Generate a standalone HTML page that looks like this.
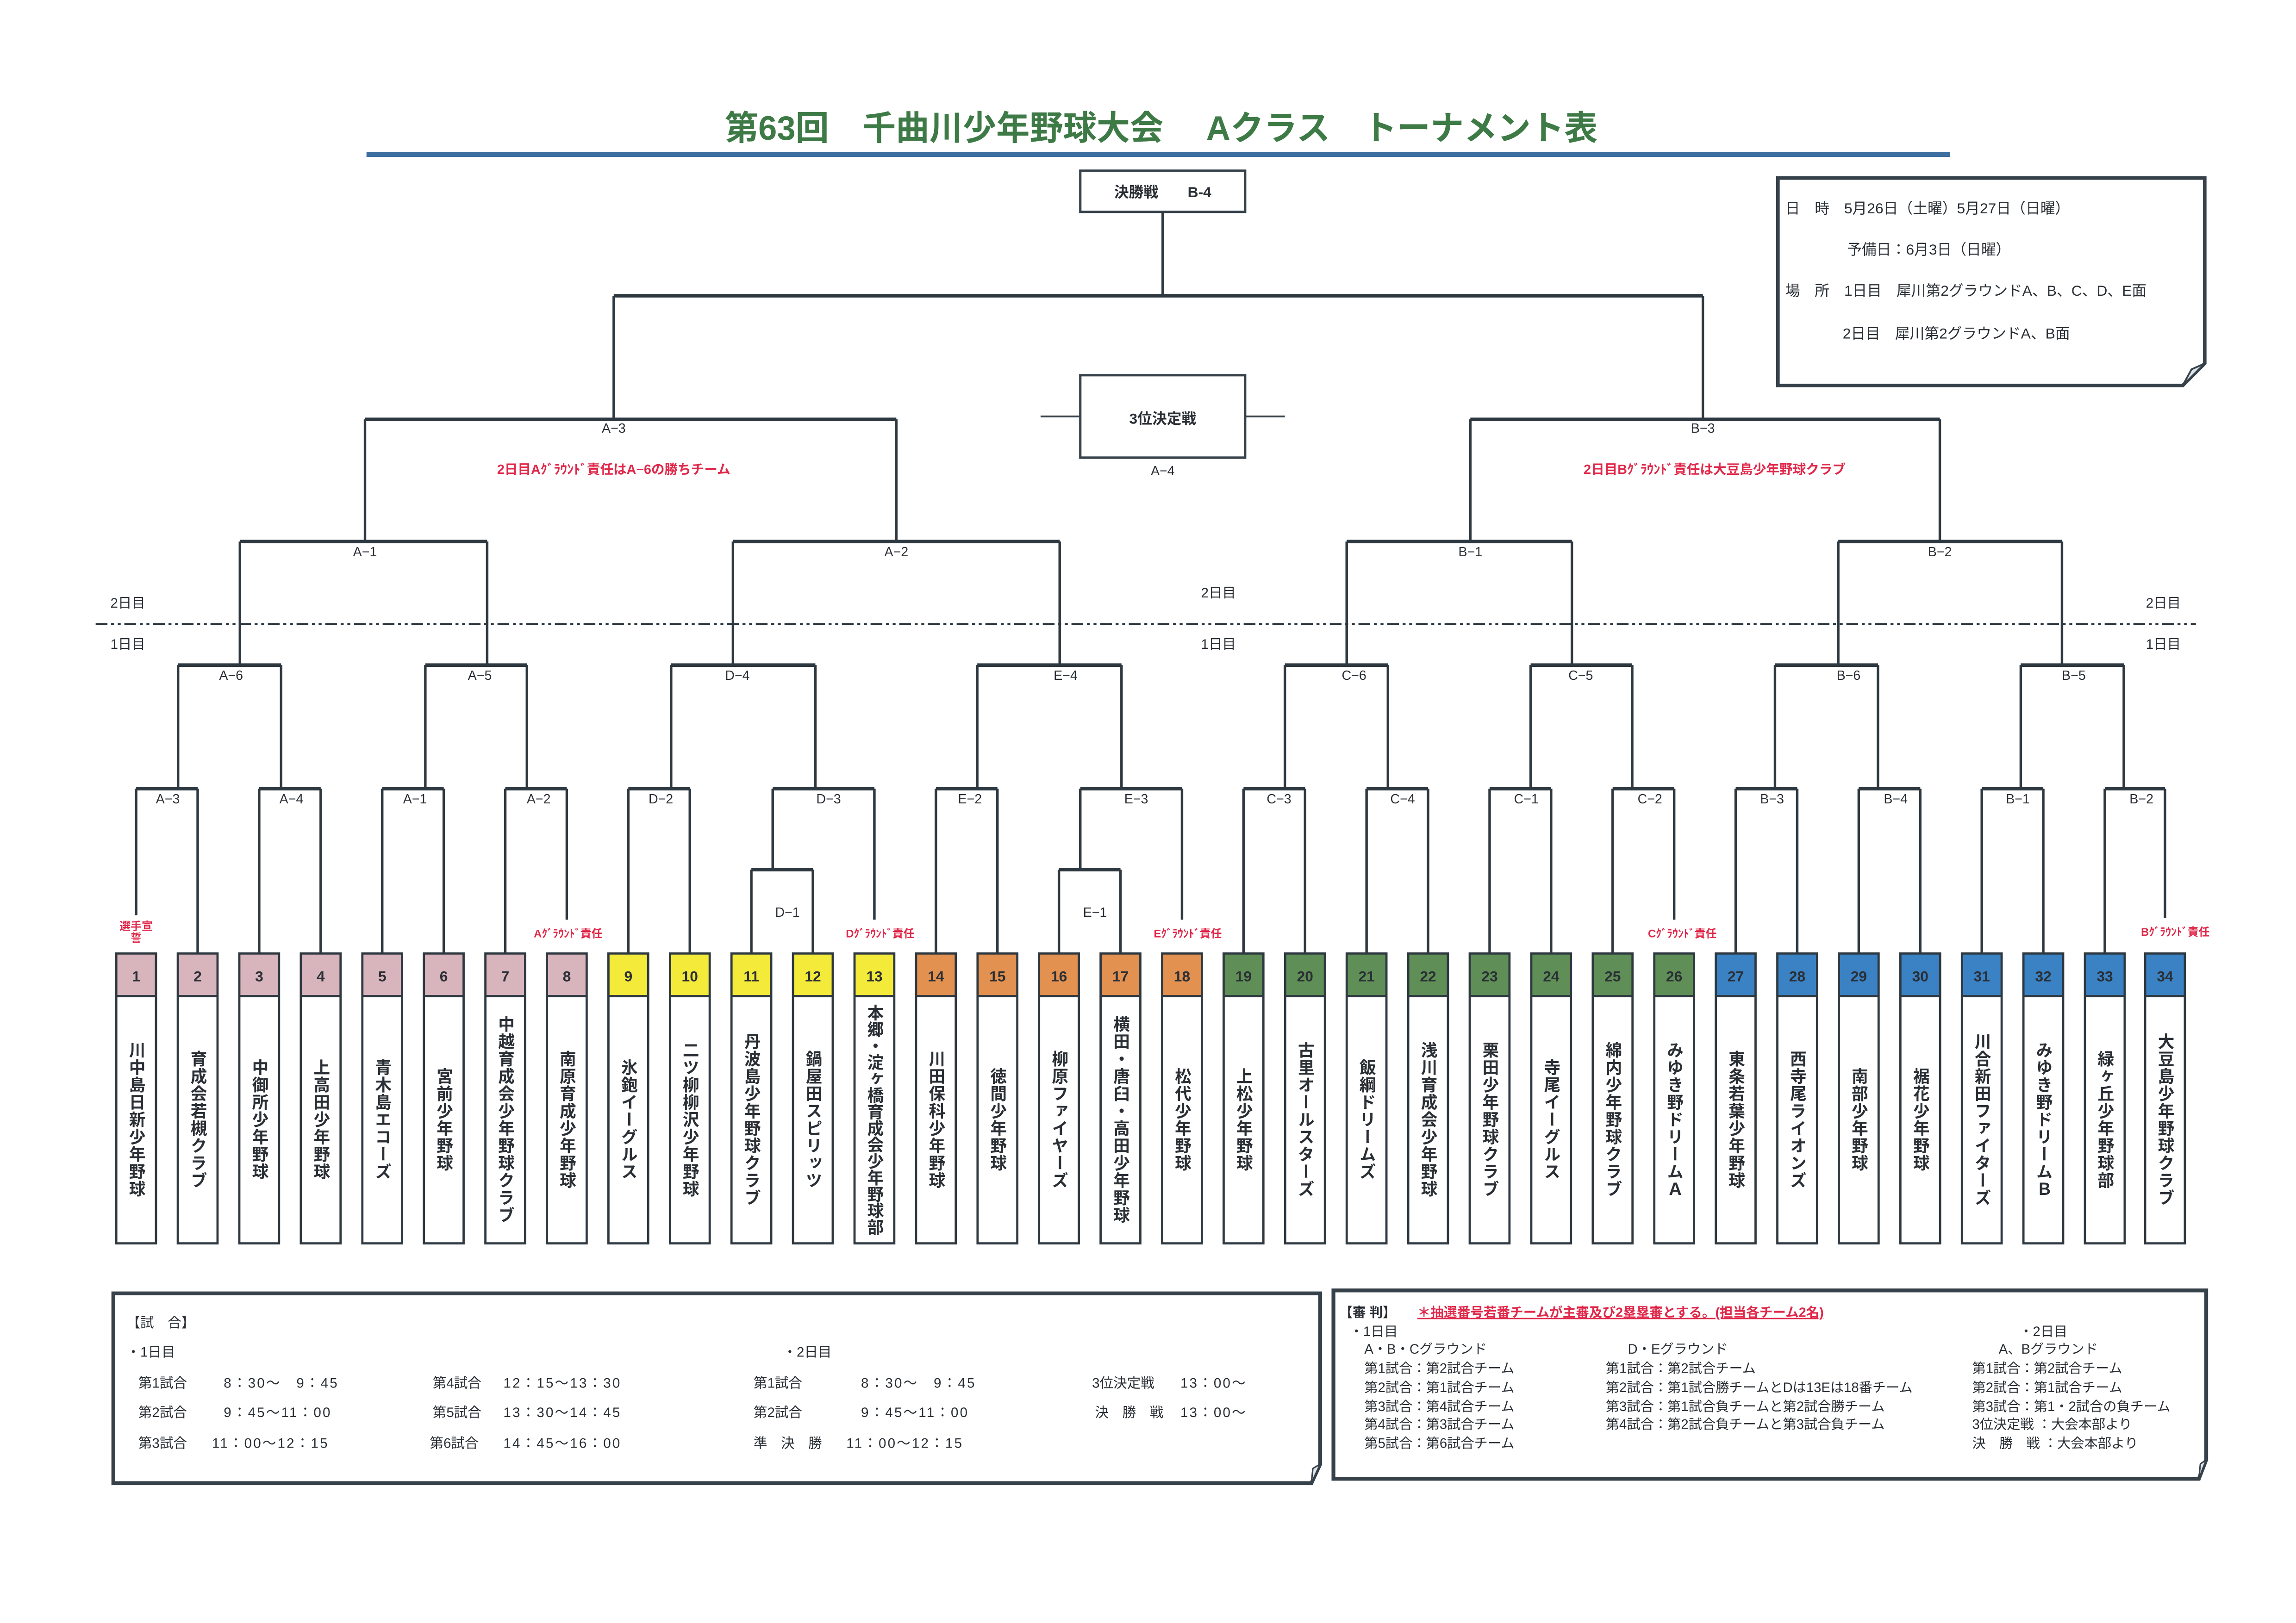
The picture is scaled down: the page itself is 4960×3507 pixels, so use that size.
<!DOCTYPE html>
<html><head><meta charset="utf-8">
<style>
html,body{margin:0;padding:0;background:#fff;}
svg{display:block;}
text{font-family:"Liberation Sans","Noto Sans CJK JP",sans-serif;fill:#2a2f35;}
.lb{font-size:9px;text-anchor:middle;}
.nm{font-size:11.2px;font-weight:bold;writing-mode:vertical-rl;text-anchor:middle;letter-spacing:0.6px;}
.num{font-size:10px;font-weight:bold;text-anchor:middle;}
.red{fill:#e0284a;font-size:7.5px;text-anchor:middle;font-weight:bold;}
.s{font-size:10px;}
.t{font-size:9.3px;}
.ln{stroke:#2e3840;stroke-width:1.7;fill:none;}
.hz{stroke:#2e3840;stroke-width:2.4;fill:none;}
</style></head>
<body>
<svg width="4960" height="3507" viewBox="0 0 1560 1103" xmlns="http://www.w3.org/2000/svg">
<rect width="1560" height="1103" fill="#fff"/>
<text x="789" y="95" style="font-size:23px;font-weight:bold;fill:#3e7a46;text-anchor:middle;" textLength="593" lengthAdjust="spacingAndGlyphs">第63回　千曲川少年野球大会　 Aクラス　トーナメント表</text>
<line x1="249" y1="105" x2="1325" y2="105" stroke="#3d6fa0" stroke-width="3.2"/>

<path d="M1208,121 H1498 V247 L1483,262 H1208 Z" fill="#fff" stroke="#36414a" stroke-width="2.4"/>
<path d="M1498,247 L1489,251 L1483,262 Z" fill="#dfe4ea" stroke="#36414a" stroke-width="1.2"/>
<text x="1213" y="145" class="s">日　時　5月26日（土曜）5月27日（日曜）</text>
<text x="1255" y="173" class="s">予備日：6月3日（日曜）</text>
<text x="1213" y="201" class="s">場　所　1日目　犀川第2グラウンドA、B、C、D、E面</text>
<text x="1252" y="230" class="s">2日目　犀川第2グラウンドA、B面</text>

<rect x="734" y="116" width="112" height="28" fill="#fff" stroke="#36414a" stroke-width="1.6"/>
<text x="790" y="134" style="font-size:10px;font-weight:bold;text-anchor:middle;">決勝戦　　B-4</text>
<line class="ln" x1="790" y1="144" x2="790" y2="201"/>
<line class="hz" x1="417" y1="201" x2="1157" y2="201"/>
<line class="ln" x1="417" y1="201" x2="417" y2="285"/>
<line class="ln" x1="1157" y1="201" x2="1157" y2="285"/>

<rect x="734" y="255" width="112" height="56" fill="#fff" stroke="#36414a" stroke-width="1.6"/>
<text x="790" y="288" style="font-size:10px;font-weight:bold;text-anchor:middle;">3位決定戦</text>
<line x1="707" y1="283" x2="734" y2="283" stroke="#36414a" stroke-width="1.2"/>
<line x1="846" y1="283" x2="873" y2="283" stroke="#36414a" stroke-width="1.2"/>
<text x="790" y="323" class="lb">A−4</text>

<line class="hz" x1="248" y1="285" x2="609" y2="285"/>
<line class="ln" x1="248" y1="285" x2="248" y2="368"/>
<line class="ln" x1="609" y1="285" x2="609" y2="368"/>
<text x="417" y="294" class="lb">A−3</text>
<line class="hz" x1="999" y1="285" x2="1318" y2="285"/>
<line class="ln" x1="999" y1="285" x2="999" y2="368"/>
<line class="ln" x1="1318" y1="285" x2="1318" y2="368"/>
<text x="1157" y="294" class="lb">B−3</text>
<text x="417" y="322" class="red" style="font-size:9px;">2日目Aｸﾞﾗｳﾝﾄﾞ責任はA−6の勝ちチーム</text>
<text x="1165" y="322" class="red" style="font-size:9px;">2日目Bｸﾞﾗｳﾝﾄﾞ責任は大豆島少年野球クラブ</text>

<line class="hz" x1="163" y1="368" x2="331" y2="368"/>
<line class="ln" x1="163" y1="368" x2="163" y2="452"/><line class="ln" x1="331" y1="368" x2="331" y2="452"/>
<text x="248" y="378" class="lb">A−1</text>
<line class="hz" x1="498" y1="368" x2="720" y2="368"/>
<line class="ln" x1="498" y1="368" x2="498" y2="452"/><line class="ln" x1="720" y1="368" x2="720" y2="452"/>
<text x="609" y="378" class="lb">A−2</text>
<line class="hz" x1="915" y1="368" x2="1068" y2="368"/>
<line class="ln" x1="915" y1="368" x2="915" y2="452"/><line class="ln" x1="1068" y1="368" x2="1068" y2="452"/>
<text x="999" y="378" class="lb">B−1</text>
<line class="hz" x1="1249" y1="368" x2="1401" y2="368"/>
<line class="ln" x1="1249" y1="368" x2="1249" y2="452"/><line class="ln" x1="1401" y1="368" x2="1401" y2="452"/>
<text x="1318" y="378" class="lb">B−2</text>

<line x1="65" y1="424" x2="1492" y2="424" stroke="#2e3840" stroke-width="1.2" stroke-dasharray="8 2.5 2 2.5 2 2.5"/>
<text x="75" y="413" class="t">2日目</text>
<text x="75" y="441" class="t">1日目</text>
<text x="816" y="406" class="t">2日目</text>
<text x="816" y="441" class="t">1日目</text>
<text x="1458" y="413" class="t">2日目</text>
<text x="1458" y="441" class="t">1日目</text>

<g>
<line class="hz" x1="121" y1="452" x2="191" y2="452"/><line class="ln" x1="121" y1="452" x2="121" y2="536"/><line class="ln" x1="191" y1="452" x2="191" y2="536"/><text x="157" y="462" class="lb">A−6</text>
<line class="hz" x1="289" y1="452" x2="358" y2="452"/><line class="ln" x1="289" y1="452" x2="289" y2="536"/><line class="ln" x1="358" y1="452" x2="358" y2="536"/><text x="326" y="462" class="lb">A−5</text>
<line class="hz" x1="456" y1="452" x2="554" y2="452"/><line class="ln" x1="456" y1="452" x2="456" y2="536"/><line class="ln" x1="554" y1="452" x2="554" y2="536"/><text x="501" y="462" class="lb">D−4</text>
<line class="hz" x1="664" y1="452" x2="762" y2="452"/><line class="ln" x1="664" y1="452" x2="664" y2="536"/><line class="ln" x1="762" y1="452" x2="762" y2="536"/><text x="724" y="462" class="lb">E−4</text>
<line class="hz" x1="873" y1="452" x2="943" y2="452"/><line class="ln" x1="873" y1="452" x2="873" y2="536"/><line class="ln" x1="943" y1="452" x2="943" y2="536"/><text x="920" y="462" class="lb">C−6</text>
<line class="hz" x1="1040" y1="452" x2="1109" y2="452"/><line class="ln" x1="1040" y1="452" x2="1040" y2="536"/><line class="ln" x1="1109" y1="452" x2="1109" y2="536"/><text x="1074" y="462" class="lb">C−5</text>
<line class="hz" x1="1206" y1="452" x2="1276" y2="452"/><line class="ln" x1="1206" y1="452" x2="1206" y2="536"/><line class="ln" x1="1276" y1="452" x2="1276" y2="536"/><text x="1256" y="462" class="lb">B−6</text>
<line class="hz" x1="1373" y1="452" x2="1443" y2="452"/><line class="ln" x1="1373" y1="452" x2="1373" y2="536"/><line class="ln" x1="1443" y1="452" x2="1443" y2="536"/><text x="1409" y="462" class="lb">B−5</text>
</g>

<g>
<line class="hz" x1="92.5" y1="536" x2="134.3" y2="536"/><text x="114" y="546" class="lb">A−3</text>
<line class="hz" x1="176.1" y1="536" x2="217.9" y2="536"/><text x="198" y="546" class="lb">A−4</text>
<line class="hz" x1="259.7" y1="536" x2="301.5" y2="536"/><text x="282" y="546" class="lb">A−1</text>
<line class="hz" x1="343.3" y1="536" x2="385.1" y2="536"/><text x="366" y="546" class="lb">A−2</text>
<line class="hz" x1="426.9" y1="536" x2="468.7" y2="536"/><text x="449" y="546" class="lb">D−2</text>
<line class="hz" x1="525" y1="536" x2="594.1" y2="536"/><text x="563" y="546" class="lb">D−3</text>
<line class="ln" x1="525" y1="536" x2="525" y2="591"/>
<line class="hz" x1="510.5" y1="591" x2="552.3" y2="591"/><text x="535" y="623" class="lb">D−1</text>
<line class="hz" x1="635.9" y1="536" x2="677.7" y2="536"/><text x="659" y="546" class="lb">E−2</text>
<line class="hz" x1="734" y1="536" x2="803.1" y2="536"/><text x="772" y="546" class="lb">E−3</text>
<line class="ln" x1="734" y1="536" x2="734" y2="591"/>
<line class="hz" x1="719.5" y1="591" x2="761.3" y2="591"/><text x="744" y="623" class="lb">E−1</text>
<line class="hz" x1="844.9" y1="536" x2="886.7" y2="536"/><text x="869" y="546" class="lb">C−3</text>
<line class="hz" x1="928.5" y1="536" x2="970.3" y2="536"/><text x="953" y="546" class="lb">C−4</text>
<line class="hz" x1="1012.1" y1="536" x2="1053.9" y2="536"/><text x="1037" y="546" class="lb">C−1</text>
<line class="hz" x1="1095.7" y1="536" x2="1137.5" y2="536"/><text x="1121" y="546" class="lb">C−2</text>
<line class="hz" x1="1179.3" y1="536" x2="1221.1" y2="536"/><text x="1204" y="546" class="lb">B−3</text>
<line class="hz" x1="1262.9" y1="536" x2="1304.7" y2="536"/><text x="1288" y="546" class="lb">B−4</text>
<line class="hz" x1="1346.5" y1="536" x2="1388.3" y2="536"/><text x="1371" y="546" class="lb">B−1</text>
<line class="hz" x1="1430.1" y1="536" x2="1471" y2="536"/><text x="1455" y="546" class="lb">B−2</text>
</g>

<g class="ln">
<line x1="92.5" y1="536" x2="92.5" y2="622"/>
<line x1="134.3" y1="536" x2="134.3" y2="648"/>
<line x1="176.1" y1="536" x2="176.1" y2="648"/>
<line x1="217.9" y1="536" x2="217.9" y2="648"/>
<line x1="259.7" y1="536" x2="259.7" y2="648"/>
<line x1="301.5" y1="536" x2="301.5" y2="648"/>
<line x1="343.3" y1="536" x2="343.3" y2="648"/>
<line x1="385.1" y1="536" x2="385.1" y2="625"/>
<line x1="426.9" y1="536" x2="426.9" y2="648"/>
<line x1="468.7" y1="536" x2="468.7" y2="648"/>
<line x1="510.5" y1="591" x2="510.5" y2="648"/>
<line x1="552.3" y1="591" x2="552.3" y2="648"/>
<line x1="594.1" y1="536" x2="594.1" y2="625"/>
<line x1="635.9" y1="536" x2="635.9" y2="648"/>
<line x1="677.7" y1="536" x2="677.7" y2="648"/>
<line x1="719.5" y1="591" x2="719.5" y2="648"/>
<line x1="761.3" y1="591" x2="761.3" y2="648"/>
<line x1="803.1" y1="536" x2="803.1" y2="625"/>
<line x1="844.9" y1="536" x2="844.9" y2="648"/>
<line x1="886.7" y1="536" x2="886.7" y2="648"/>
<line x1="928.5" y1="536" x2="928.5" y2="648"/>
<line x1="970.3" y1="536" x2="970.3" y2="648"/>
<line x1="1012.1" y1="536" x2="1012.1" y2="648"/>
<line x1="1053.9" y1="536" x2="1053.9" y2="648"/>
<line x1="1095.7" y1="536" x2="1095.7" y2="648"/>
<line x1="1137.5" y1="536" x2="1137.5" y2="625"/>
<line x1="1179.3" y1="536" x2="1179.3" y2="648"/>
<line x1="1221.1" y1="536" x2="1221.1" y2="648"/>
<line x1="1262.9" y1="536" x2="1262.9" y2="648"/>
<line x1="1304.7" y1="536" x2="1304.7" y2="648"/>
<line x1="1346.5" y1="536" x2="1346.5" y2="648"/>
<line x1="1388.3" y1="536" x2="1388.3" y2="648"/>
<line x1="1430.1" y1="536" x2="1430.1" y2="648"/>
<line x1="1471" y1="536" x2="1471" y2="624"/>
</g>

<text x="92.5" y="632" class="red">選手宣</text>
<text x="92.5" y="640" class="red">誓</text>
<text x="386" y="637" class="red">Aｸﾞﾗｳﾝﾄﾞ責任</text>
<text x="598" y="637" class="red">Dｸﾞﾗｳﾝﾄﾞ責任</text>
<text x="807" y="637" class="red">Eｸﾞﾗｳﾝﾄﾞ責任</text>
<text x="1143" y="637" class="red">Cｸﾞﾗｳﾝﾄﾞ責任</text>
<text x="1478" y="636" class="red">Bｸﾞﾗｳﾝﾄﾞ責任</text>

<defs>
<g id="frame"><rect x="-13.5" y="648" width="27" height="197" fill="none" stroke="#2e3840" stroke-width="1.5"/><line x1="-13.5" y1="677" x2="13.5" y2="677" stroke="#2e3840" stroke-width="1.5"/></g>
</defs>
<g transform="translate(92.5,0)"><rect x="-13.5" y="648" width="27" height="29" fill="#d8b4bc"/><use href="#frame"/><text x="0" y="667" class="num">1</text><text x="0" y="761" class="nm">川中島日新少年野球</text></g>
<g transform="translate(134.3,0)"><rect x="-13.5" y="648" width="27" height="29" fill="#d8b4bc"/><use href="#frame"/><text x="0" y="667" class="num">2</text><text x="0" y="761" class="nm">育成会若槻クラブ</text></g>
<g transform="translate(176.1,0)"><rect x="-13.5" y="648" width="27" height="29" fill="#d8b4bc"/><use href="#frame"/><text x="0" y="667" class="num">3</text><text x="0" y="761" class="nm">中御所少年野球</text></g>
<g transform="translate(217.9,0)"><rect x="-13.5" y="648" width="27" height="29" fill="#d8b4bc"/><use href="#frame"/><text x="0" y="667" class="num">4</text><text x="0" y="761" class="nm">上高田少年野球</text></g>
<g transform="translate(259.7,0)"><rect x="-13.5" y="648" width="27" height="29" fill="#d8b4bc"/><use href="#frame"/><text x="0" y="667" class="num">5</text><text x="0" y="761" class="nm">青木島エコーズ</text></g>
<g transform="translate(301.5,0)"><rect x="-13.5" y="648" width="27" height="29" fill="#d8b4bc"/><use href="#frame"/><text x="0" y="667" class="num">6</text><text x="0" y="761" class="nm">宮前少年野球</text></g>
<g transform="translate(343.3,0)"><rect x="-13.5" y="648" width="27" height="29" fill="#d8b4bc"/><use href="#frame"/><text x="0" y="667" class="num">7</text><text x="0" y="761" class="nm">中越育成会少年野球クラブ</text></g>
<g transform="translate(385.1,0)"><rect x="-13.5" y="648" width="27" height="29" fill="#d8b4bc"/><use href="#frame"/><text x="0" y="667" class="num">8</text><text x="0" y="761" class="nm">南原育成少年野球</text></g>
<g transform="translate(426.9,0)"><rect x="-13.5" y="648" width="27" height="29" fill="#f4ea3a"/><use href="#frame"/><text x="0" y="667" class="num">9</text><text x="0" y="761" class="nm">氷鉋イーグルス</text></g>
<g transform="translate(468.7,0)"><rect x="-13.5" y="648" width="27" height="29" fill="#f4ea3a"/><use href="#frame"/><text x="0" y="667" class="num">10</text><text x="0" y="761" class="nm">二ツ柳柳沢少年野球</text></g>
<g transform="translate(510.5,0)"><rect x="-13.5" y="648" width="27" height="29" fill="#f4ea3a"/><use href="#frame"/><text x="0" y="667" class="num">11</text><text x="0" y="761" class="nm">丹波島少年野球クラブ</text></g>
<g transform="translate(552.3,0)"><rect x="-13.5" y="648" width="27" height="29" fill="#f4ea3a"/><use href="#frame"/><text x="0" y="667" class="num">12</text><text x="0" y="761" class="nm">鍋屋田スピリッツ</text></g>
<g transform="translate(594.1,0)"><rect x="-13.5" y="648" width="27" height="29" fill="#f4ea3a"/><use href="#frame"/><text x="0" y="667" class="num">13</text><text x="0" y="761" class="nm" style="letter-spacing:0">本郷・淀ヶ橋育成会少年野球部</text></g>
<g transform="translate(635.9,0)"><rect x="-13.5" y="648" width="27" height="29" fill="#e39150"/><use href="#frame"/><text x="0" y="667" class="num">14</text><text x="0" y="761" class="nm">川田保科少年野球</text></g>
<g transform="translate(677.7,0)"><rect x="-13.5" y="648" width="27" height="29" fill="#e39150"/><use href="#frame"/><text x="0" y="667" class="num">15</text><text x="0" y="761" class="nm">徳間少年野球</text></g>
<g transform="translate(719.5,0)"><rect x="-13.5" y="648" width="27" height="29" fill="#e39150"/><use href="#frame"/><text x="0" y="667" class="num">16</text><text x="0" y="761" class="nm">柳原ファイヤーズ</text></g>
<g transform="translate(761.3,0)"><rect x="-13.5" y="648" width="27" height="29" fill="#e39150"/><use href="#frame"/><text x="0" y="761" class="nm">横田・唐臼・高田少年野球</text><text x="0" y="667" class="num">17</text></g>
<g transform="translate(803.1,0)"><rect x="-13.5" y="648" width="27" height="29" fill="#e39150"/><use href="#frame"/><text x="0" y="667" class="num">18</text><text x="0" y="761" class="nm">松代少年野球</text></g>
<g transform="translate(844.9,0)"><rect x="-13.5" y="648" width="27" height="29" fill="#5f8f57"/><use href="#frame"/><text x="0" y="667" class="num">19</text><text x="0" y="761" class="nm">上松少年野球</text></g>
<g transform="translate(886.7,0)"><rect x="-13.5" y="648" width="27" height="29" fill="#5f8f57"/><use href="#frame"/><text x="0" y="667" class="num">20</text><text x="0" y="761" class="nm">古里オールスターズ</text></g>
<g transform="translate(928.5,0)"><rect x="-13.5" y="648" width="27" height="29" fill="#5f8f57"/><use href="#frame"/><text x="0" y="667" class="num">21</text><text x="0" y="761" class="nm">飯綱ドリームズ</text></g>
<g transform="translate(970.3,0)"><rect x="-13.5" y="648" width="27" height="29" fill="#5f8f57"/><use href="#frame"/><text x="0" y="667" class="num">22</text><text x="0" y="761" class="nm">浅川育成会少年野球</text></g>
<g transform="translate(1012.1,0)"><rect x="-13.5" y="648" width="27" height="29" fill="#5f8f57"/><use href="#frame"/><text x="0" y="667" class="num">23</text><text x="0" y="761" class="nm">栗田少年野球クラブ</text></g>
<g transform="translate(1053.9,0)"><rect x="-13.5" y="648" width="27" height="29" fill="#5f8f57"/><use href="#frame"/><text x="0" y="667" class="num">24</text><text x="0" y="761" class="nm">寺尾イーグルス</text></g>
<g transform="translate(1095.7,0)"><rect x="-13.5" y="648" width="27" height="29" fill="#5f8f57"/><use href="#frame"/><text x="0" y="667" class="num">25</text><text x="0" y="761" class="nm">綿内少年野球クラブ</text></g>
<g transform="translate(1137.5,0)"><rect x="-13.5" y="648" width="27" height="29" fill="#5f8f57"/><use href="#frame"/><text x="0" y="667" class="num">26</text><text x="0" y="761" class="nm">みゆき野ドリームＡ</text></g>
<g transform="translate(1179.3,0)"><rect x="-13.5" y="648" width="27" height="29" fill="#3a82c4"/><use href="#frame"/><text x="0" y="667" class="num">27</text><text x="0" y="761" class="nm">東条若葉少年野球</text></g>
<g transform="translate(1221.1,0)"><rect x="-13.5" y="648" width="27" height="29" fill="#3a82c4"/><use href="#frame"/><text x="0" y="667" class="num">28</text><text x="0" y="761" class="nm">西寺尾ライオンズ</text></g>
<g transform="translate(1262.9,0)"><rect x="-13.5" y="648" width="27" height="29" fill="#3a82c4"/><use href="#frame"/><text x="0" y="667" class="num">29</text><text x="0" y="761" class="nm">南部少年野球</text></g>
<g transform="translate(1304.7,0)"><rect x="-13.5" y="648" width="27" height="29" fill="#3a82c4"/><use href="#frame"/><text x="0" y="667" class="num">30</text><text x="0" y="761" class="nm">裾花少年野球</text></g>
<g transform="translate(1346.5,0)"><rect x="-13.5" y="648" width="27" height="29" fill="#3a82c4"/><use href="#frame"/><text x="0" y="667" class="num">31</text><text x="0" y="761" class="nm">川合新田ファイターズ</text></g>
<g transform="translate(1388.3,0)"><rect x="-13.5" y="648" width="27" height="29" fill="#3a82c4"/><use href="#frame"/><text x="0" y="667" class="num">32</text><text x="0" y="761" class="nm">みゆき野ドリームＢ</text></g>
<g transform="translate(1430.1,0)"><rect x="-13.5" y="648" width="27" height="29" fill="#3a82c4"/><use href="#frame"/><text x="0" y="667" class="num">33</text><text x="0" y="761" class="nm">緑ヶ丘少年野球部</text></g>
<g transform="translate(1471,0)"><rect x="-13.5" y="648" width="27" height="29" fill="#3a82c4"/><use href="#frame"/><text x="0" y="667" class="num">34</text><text x="0" y="761" class="nm">大豆島少年野球クラブ</text></g>

<path d="M77,879 H897 V995 L891,1008 H77 Z" fill="#fff" stroke="#36414a" stroke-width="2.6"/>
<path d="M897,995 L892,998 L891,1008 Z" fill="#dfe4ea" stroke="#36414a" stroke-width="1"/>
<g class="t">
<text x="86" y="902" class="t">【試　合】</text>
<text x="86" y="922" class="t">・1日目</text>
<text x="532" y="922" class="t">・2日目</text>
<text x="94" y="943" class="t">第1試合</text><text x="152" y="943" class="t" style="letter-spacing:1px">8：30～　9：45</text>
<text x="294" y="943" class="t">第4試合</text><text x="342" y="943" class="t" style="letter-spacing:1px">12：15～13：30</text>
<text x="512" y="943" class="t">第1試合</text><text x="585" y="943" class="t" style="letter-spacing:1px">8：30～　9：45</text>
<text x="742" y="943" class="t">3位決定戦</text><text x="802" y="943" class="t" style="letter-spacing:1px">13：00～</text>
<text x="94" y="963" class="t">第2試合</text><text x="152" y="963" class="t" style="letter-spacing:1px">9：45～11：00</text>
<text x="294" y="963" class="t">第5試合</text><text x="342" y="963" class="t" style="letter-spacing:1px">13：30～14：45</text>
<text x="512" y="963" class="t">第2試合</text><text x="585" y="963" class="t" style="letter-spacing:1px">9：45～11：00</text>
<text x="744" y="963" class="t">決　勝　戦</text><text x="802" y="963" class="t" style="letter-spacing:1px">13：00～</text>
<text x="94" y="984" class="t">第3試合</text><text x="144" y="984" class="t" style="letter-spacing:1px">11：00～12：15</text>
<text x="292" y="984" class="t">第6試合</text><text x="342" y="984" class="t" style="letter-spacing:1px">14：45～16：00</text>
<text x="512" y="984" class="t">準　決　勝</text><text x="575" y="984" class="t" style="letter-spacing:1px">11：00～12：15</text>
</g>

<path d="M906,877 H1499 V992 L1494,1005 H906 Z" fill="#fff" stroke="#36414a" stroke-width="2.6"/>
<path d="M1499,992 L1495,995 L1494,1005 Z" fill="#dfe4ea" stroke="#36414a" stroke-width="1"/>
<text x="910" y="895" style="font-size:9px;font-weight:bold;">【審 判】</text>
<text x="963" y="895" style="font-size:9px;fill:#e0284a;font-weight:bold;text-decoration:underline;">＊抽選番号若番チームが主審及び2塁塁審とする。(担当各チーム2名)</text>
<g style="font-size:9.2px">
<text x="917" y="908" style="font-size:9.2px">・1日目</text>
<text x="1372" y="908" style="font-size:9.2px">・2日目</text>
<text x="927" y="920" style="font-size:9.2px">A・B・Cグラウンド</text>
<text x="1106" y="920" style="font-size:9.2px">D・Eグラウンド</text>
<text x="1358" y="920" style="font-size:9.2px">A、Bグラウンド</text>
<text x="927" y="933" style="font-size:9.2px">第1試合：第2試合チーム</text>
<text x="927" y="946" style="font-size:9.2px">第2試合：第1試合チーム</text>
<text x="927" y="959" style="font-size:9.2px">第3試合：第4試合チーム</text>
<text x="927" y="971" style="font-size:9.2px">第4試合：第3試合チーム</text>
<text x="927" y="984" style="font-size:9.2px">第5試合：第6試合チーム</text>
<text x="1091" y="933" style="font-size:9.2px">第1試合：第2試合チーム</text>
<text x="1091" y="946" style="font-size:9.2px">第2試合：第1試合勝チームとDは13Eは18番チーム</text>
<text x="1091" y="959" style="font-size:9.2px">第3試合：第1試合負チームと第2試合勝チーム</text>
<text x="1091" y="971" style="font-size:9.2px">第4試合：第2試合負チームと第3試合負チーム</text>
<text x="1340" y="933" style="font-size:9.2px">第1試合：第2試合チーム</text>
<text x="1340" y="946" style="font-size:9.2px">第2試合：第1試合チーム</text>
<text x="1340" y="959" style="font-size:9.2px">第3試合：第1・2試合の負チーム</text>
<text x="1340" y="971" style="font-size:9.2px">3位決定戦 ：大会本部より</text>
<text x="1340" y="984" style="font-size:9.2px">決　勝　戦 ：大会本部より</text>
</g>
</svg>
</body></html>
